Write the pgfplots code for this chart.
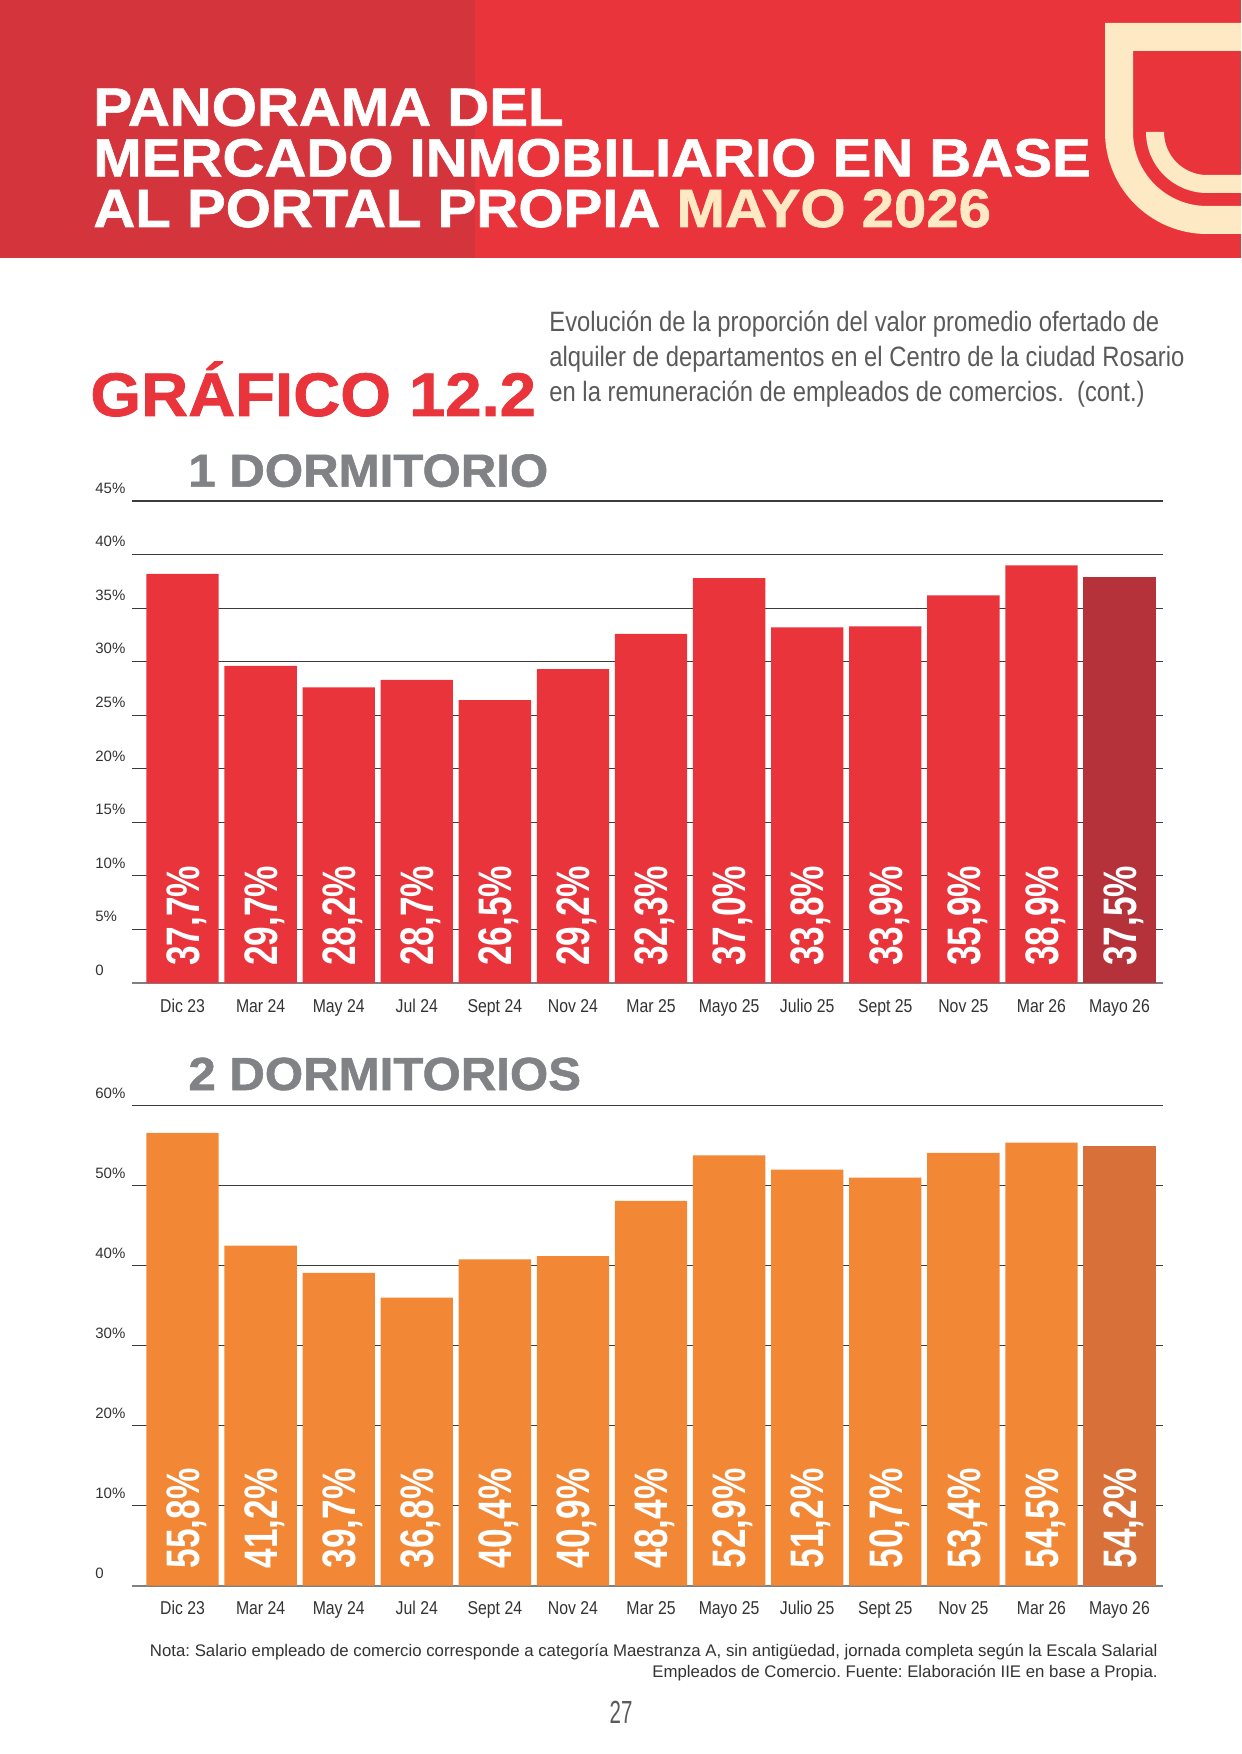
\documentclass[border=0pt]{standalone}
\usepackage{pgfplots}
\pgfplotsset{compat=1.18}
\usepackage{pgfplotstable}
\usepackage{fontspec}
\setmainfont{Liberation Sans}
\newfontfamily\hdrfont{Liberation Sans}[FakeStretch=1.08, FakeBold=1.2]
\newfontfamily\ttlfont{Liberation Sans}[FakeStretch=1.06, FakeBold=1.2]
\newfontfamily\condfont{Liberation Sans}[FakeStretch=0.85]
\newfontfamily\barfont{Liberation Sans}[FakeStretch=0.75]
\newfontfamily\pnumfont{Liberation Sans}[FakeStretch=0.64]
\frenchspacing

\definecolor{hdrright}{HTML}{E9343B}
\definecolor{hdrleft}{HTML}{D4343B}
\definecolor{cream}{HTML}{FDE9C3}
\definecolor{redbar}{HTML}{E9343B}
\definecolor{reddark}{HTML}{B5323A}
\definecolor{orangebar}{HTML}{F28836}
\definecolor{orangedark}{HTML}{D8703A}
\definecolor{titlered}{HTML}{E9343B}
\definecolor{grayhead}{HTML}{808285}
\definecolor{subgray}{HTML}{5A5A5A}
\definecolor{txt}{HTML}{333333}
\definecolor{gridc}{HTML}{3C3C3C}
\definecolor{zeroc}{HTML}{808080}

% bar = drawn bar height, lab = printed label
\pgfplotstableread{
x bar lab zero
0 38.2 37.7 0
1 29.6 29.7 0
2 27.6 28.2 0
3 28.3 28.7 0
4 26.4 26.5 0
5 29.3 29.2 0
6 32.6 32.3 0
7 37.8 37.0 0
8 33.2 33.8 0
9 33.3 33.9 0
10 36.2 35.9 0
11 39.0 38.9 0
12 37.9 37.5 0
}\tA

\pgfplotstableread{
x bar lab zero
0 56.6 55.8 0
1 42.5 41.2 0
2 39.1 39.7 0
3 36.0 36.8 0
4 40.8 40.4 0
5 41.2 40.9 0
6 48.1 48.4 0
7 53.8 52.9 0
8 52.0 51.2 0
9 51.0 50.7 0
10 54.1 53.4 0
11 55.4 54.5 0
12 55.0 54.2 0
}\tB

\pgfplotsset{
  chartbase/.style={
    scale only axis, width=515.5pt,
    xmin=-0.647, xmax=12.557, ymin=0,
    axis line style={draw=none},
    major tick length=0pt,
    xtick={0,...,12},
    xticklabels={Dic 23,Mar 24,May 24,Jul 24,Sept 24,Nov 24,Mar 25,Mayo 25,Julio 25,Sept 25,Nov 25,Mar 26,Mayo 26},
    xticklabel style={font=\condfont\fontsize{9.3pt}{10pt}\selectfont, text=txt, anchor=base, inner sep=0pt, yshift=-14.5pt},
    yticklabel style={font=\fontsize{7.5pt}{8pt}\selectfont, text=txt, anchor=base west, inner sep=0pt, xshift=-18.5pt, yshift=3.85pt},
    ymajorgrids, grid style={draw=gridc, line width=0.6pt},
    extra y ticks={0}, extra y tick labels={},
    extra y tick style={grid style={draw=zeroc, line width=1.1pt}},
    clip=false,
  },
  barlabels/.style={
    only marks, mark=none, point meta=explicit,
    nodes near coords={\pgfmathprintnumber[fixed,fixed zerofill,precision=1,use comma,assume math mode=true]{\pgfplotspointmeta}\%},
    every node near coord/.append style={font=\barfont\bfseries\fontsize{23.5pt}{24pt}\selectfont, text=white, inner sep=0pt, text height=16.8pt, text depth=0pt, yshift=8.5pt, rotate=90, anchor=west},
  },
}

\begin{document}
\begin{tikzpicture}
\useasboundingbox (0pt,0pt) rectangle (620.5pt,-877pt);
\fill[white] (0pt,0pt) rectangle (620.5pt,-877pt);
% header
\fill[hdrright] (0pt,0pt) rectangle (620.5pt,-129pt);
\fill[hdrleft] (0pt,0pt) rectangle (237.5pt,-129pt);
% logo
\begin{scope}
\clip (0pt,0pt) rectangle (620.5pt,-129pt);
\fill[cream] (552.5pt,-11.5pt) -- (630pt,-11.5pt) -- (630pt,-25.5pt) -- (566.5pt,-25.5pt) -- (566.5pt,-66pt)
  arc[start angle=180, end angle=270, radius=37pt] -- (630pt,-103pt) -- (630pt,-117pt) -- (603.5pt,-117pt)
  arc[start angle=270, end angle=180, radius=51pt] -- cycle;
\fill[cream] (573pt,-66pt) arc[start angle=180, end angle=270, radius=30.5pt] -- (630pt,-96.5pt) -- (630pt,-87.5pt) -- (603.5pt,-87.5pt)
  arc[start angle=270, end angle=180, radius=21.5pt] -- cycle;
\end{scope}
% header title
\begin{scope}[every node/.style={anchor=base west, inner sep=0pt, text=white, font=\hdrfont\bfseries\fontsize{26.9pt}{27pt}\selectfont}]
\node at (46.5pt,-62.85pt) {PANORAMA DEL};
\node at (46.5pt,-88.2pt) {MERCADO INMOBILIARIO EN BASE};
\node at (46.5pt,-113.5pt) {AL PORTAL PROPIA \textcolor{cream}{MAYO 2026}};
\end{scope}
% chart title
\node[anchor=base west, inner sep=0pt, text=titlered, font=\ttlfont\bfseries\fontsize{30.75pt}{31pt}\selectfont] at (45pt,-208pt) {GRÁFICO 12.2};
\begin{scope}[every node/.style={anchor=base west, inner sep=0pt, text=subgray, font=\condfont\fontsize{14pt}{15pt}\selectfont}]
\node at (274.5pt,-166pt) {Evolución de la proporción del valor promedio ofertado de};
\node at (274.5pt,-183.5pt) {alquiler de departamentos en el Centro de la ciudad Rosario};
\node at (274.5pt,-201pt) {en la remuneración de empleados de comercios.\ \ (cont.)};
\end{scope}
\node[anchor=base west, inner sep=0pt, text=grayhead, font=\ttlfont\bfseries\fontsize{23.2pt}{23pt}\selectfont] at (94pt,-243.35pt) {1 DORMITORIO};
\node[anchor=base west, inner sep=0pt, text=grayhead, font=\ttlfont\bfseries\fontsize{23.2pt}{23pt}\selectfont] at (94pt,-545pt) {2 DORMITORIOS};

% chart 1
\begin{axis}[chartbase, at={(66pt,-491.5pt)}, anchor=south west, height=241pt,
  ymax=45, ytick={0,5,...,45},
  yticklabels={0,5\%,10\%,15\%,20\%,25\%,30\%,35\%,40\%,45\%}]
\addplot[ybar, bar width=36.15pt, fill=redbar, draw=none, restrict x to domain=-0.5:11.5] table[x=x,y=bar]{\tA};
\addplot[ybar, bar width=36.15pt, fill=reddark, draw=none, restrict x to domain=11.5:12.5] table[x=x,y=bar]{\tA};
\addplot[barlabels] table[x=x,y=zero,meta=lab]{\tA};
\end{axis}

% chart 2
\begin{axis}[chartbase, at={(66pt,-792.85pt)}, anchor=south west, height=240pt,
  ymax=60, ytick={0,10,...,60},
  yticklabels={0,10\%,20\%,30\%,40\%,50\%,60\%}]
\addplot[ybar, bar width=36.15pt, fill=orangebar, draw=none, restrict x to domain=-0.5:11.5] table[x=x,y=bar]{\tB};
\addplot[ybar, bar width=36.15pt, fill=orangedark, draw=none, restrict x to domain=11.5:12.5] table[x=x,y=bar]{\tB};
\addplot[barlabels] table[x=x,y=zero,meta=lab]{\tB};
\end{axis}

% footnote
\node[anchor=base east, inner sep=0pt, text=txt, font=\fontsize{8.4pt}{9pt}\selectfont] at (579pt,-828pt) {Nota: Salario empleado de comercio corresponde a categoría Maestranza A, sin antigüedad, jornada completa según la Escala Salarial};
\node[anchor=base east, inner sep=0pt, text=txt, font=\fontsize{8.4pt}{9pt}\selectfont] at (579pt,-838.5pt) {Empleados de Comercio. Fuente: Elaboración IIE en base a Propia.};
\node[anchor=base, inner sep=0pt, text=subgray, font=\pnumfont\fontsize{16pt}{16pt}\selectfont] at (310.5pt,-861.5pt) {27};
\end{tikzpicture}
\end{document}
